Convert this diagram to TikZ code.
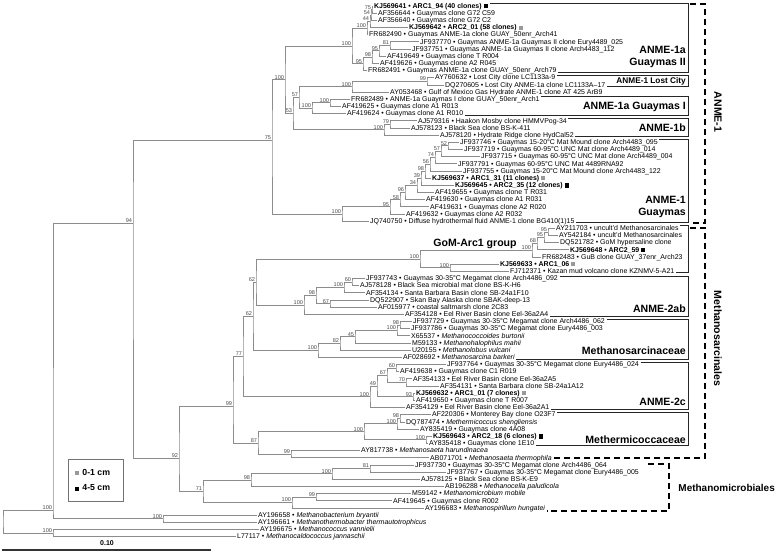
\documentclass[tikz,border=0pt]{standalone}
\usepackage{fontspec}
\setmainfont{Liberation Sans}
\usetikzlibrary{calc}
\tikzstyle{leaf}=[anchor=west,inner xsep=1.5bp,inner ysep=0pt,text height=5bp,text depth=0.4bp,font=\fontsize{7}{8}\selectfont]
\tikzstyle{br}=[black!45,line width=0.7bp]
\tikzstyle{bs}=[anchor=south east,inner xsep=0.8bp,inner ysep=0.3bp,font=\fontsize{5.6}{6}\selectfont,text=black!70]
\tikzstyle{cbox}=[black!85,line width=1bp]
\tikzstyle{clade}=[anchor=east,inner sep=0pt,align=right,font=\fontsize{10.6}{12}\selectfont\bfseries]
\tikzstyle{grp}=[black,line width=1.2bp,dash pattern=on 6bp off 4bp]
\tikzstyle{lgd}=[anchor=west,inner sep=0pt,font=\fontsize{8.8}{10}\selectfont\bfseries]
\newcommand{\sqk}{\textcolor{black}{\rule{4.2bp}{4.2bp}}}
\newcommand{\sqg}{\textcolor{black!40}{\rule{4.2bp}{4.2bp}}}

\begin{document}
\begin{tikzpicture}[x=1bp,y=-1bp]
\path[use as bounding box,fill=white] (0,0) rectangle (777,555);
\foreach \xs/\t [count=\i] in {374/{\textbf{KJ569641 • ARC1\_94 (40 clones)} \sqk}, 378/{AF356644 • Guaymas clone G72 C59}, 378/{AF356640 • Guaymas clone G72 C2}, 409/{\textbf{KJ569642 • ARC2\_01 (58 clones)} \sqg}, 369/{FR682490 • Guaymas ANME-1a clone GUAY\_50enr\_Arch41}, 420/{JF937770 • Guaymas ANME-1a Guaymas II clone Eury4489\_025}, 412/{JF937751 • Guaymas ANME-1a Guaymas II clone Arch4483\_112}, 387/{AF419649 • Guaymas clone T R004}, 380/{AF419626 • Guaymas clone A2 R045}, 368/{FR682491 • Guaymas ANME-1a clone GUAY\_50enr\_Arch79},
  435/{AY760632 • Lost City clone LC1133a-9}, 445/{DQ270605 • Lost City ANME-1a clone LC1133A–17}, 390/{AY053468 • Gulf of Mexico Gas Hydrate ANME-1 clone AT 425 ArB9}, 351/{FR682489 • ANME-1a Guaymas I clone GUAY\_50enr\_Arch1}, 342/{AF419625 • Guaymas clone A1 R013}, 347/{AF419624 • Guaymas clone A1 R010}, 418/{AJ579316 • Haakon Mosby clone HMMVPog-34}, 411/{AJ578123 • Black Sea clone BS-K-411}, 440/{AJ578120 • Hydrate Ridge clone HydCal52},
  460/{JF937746 • Guaymas 15-20°C Mat Mound clone Arch4483\_095}, 464/{JF937719 • Guaymas 60-95°C UNC Mat clone Arch4489\_014}, 481/{JF937715 • Guaymas 60-95°C UNC Mat clone Arch4489\_004}, 458/{JF937791 • Guaymas 60-95°C UNC Mat 4489RNA92}, 463/{JF937755 • Guaymas 15-20°C Mat Mound clone Arch4483\_122}, 432/{\textbf{KJ569637 • ARC1\_31 (11 clones)} \sqg}, 455/{\textbf{KJ569645 • ARC2\_35 (12 clones)} \sqk}, 435/{AF419655 • Guaymas clone T R031}, 426/{AF419630 • Guaymas clone A1 R031}, 430/{AF419631 • Guaymas clone A2 R020}, 406/{AF419632 • Guaymas clone A2 R032}, 370/{JQ740750 • Diffuse hydrothermal fluid ANME-1 clone BG410(1)15},
  556/{AY211703 • uncult'd Methanosarcinales}, 559/{AY542184 • uncult'd Methanosarcinales}, 560/{DQ521782 • GoM hypersaline clone}, 570/{\textbf{KJ569648 • ARC2\_59} \sqk}, 542/{FR682483 • GuB clone GUAY\_37enr\_Arch23}, 500/{\textbf{KJ569633 • ARC1\_06} \sqg}, 510/{FJ712371 • Kazan mud volcano clone KZNMV-5-A21},
  366/{JF937743 • Guaymas 30-35°C Megamat clone Arch4486\_092}, 360/{AJ578128 • Black Sea microbial mat clone BS-K-H6}, 366/{AF354134 • Santa Barbara Basin clone SB-24a1F10}, 370/{DQ522907 • Skan Bay Alaska clone SBAK-deep-13}, 378/{AF015977 • coastal saltmarsh clone 2C83}, 405/{AF354128 • Eel River Basin clone Eel-36a2A4},
  413/{JF937729 • Guaymas 30-35°C Megamat clone Arch4486\_062}, 411/{JF937786 • Guaymas 30-35°C Megamat clone Eury4486\_003}, 411/{X65537 • \textit{Methanococcoides burtonii}}, 412/{M59133 • \textit{Methanohalophilus mahii}}, 412/{U20155 • \textit{Methanolobus vulcani}}, 403/{AF028692 • \textit{Methanosarcina barkeri}},
  447/{JF937764 • Guaymas 30-35°C Megamat clone Eury4486\_024}, 400/{AF419638 • Guaymas clone C1 R019}, 413/{AF354133 • Eel River Basin clone Eel-36a2A5}, 440/{AF354131 • Santa Barbara clone SB-24a1A12}, 416/{\textbf{KJ569632 • ARC1\_01 (7 clones)} \sqg}, 416/{AF419650 • Guaymas clone T R007}, 406/{AF354129 • Eel River Basin clone Eel-36a2A1},
  432/{AF220306 • Monterey Bay clone O23F7}, 406/{DQ787474 • \textit{Methermicoccus shengliensis}}, 420/{AY835419 • Guaymas clone 4A08}, 433/{\textbf{KJ569643 • ARC2\_18 (6 clones)} \sqk}, 429/{AY835418 • Guaymas clone 1E10}, 361/{AY817738 • \textit{Methanosaeta harundinacea}}, 430/{AB071701 • \textit{Methanosaeta thermophila}},
  415/{JF937730 • Guaymas 30-35°C Megamat clone Arch4486\_064}, 447/{JF937767 • Guaymas 30-35°C Megamat clone Eury4486\_005}, 421/{AJ578125 • Black Sea clone BS-K-E9}, 445/{AB196288 • \textit{Methanocella paludicola}}, 412/{M59142 • \textit{Methanomicrobium mobile}}, 393/{AF419645 • Guaymas clone R002}, 425/{AY196683 • \textit{Methanospirillum hungatei}},
  258/{AY196658 • \textit{Methanobacterium bryantii}}, 258/{AY196661 • \textit{Methanothermobacter thermautotrophicus}}, 260/{AY196675 • \textit{Methanococcus vannielii}}, 237/{L77117 • \textit{Methanocaldococcus jannaschii}}}
  \node[leaf] (r\i) at (\xs-1.5,{6+(\i-1)*7.17}) {\t};
\foreach \nd/\nx/\ca/\cb in {n75a/372/r1/r2, n54/371/n75a/r3, n44/370/n54/r4, n100a/367/n44/r5, n81/390/r6/r7, n95a/379/n81/r8, n98a/372/n95a/r9, n95b/363/n98a/r10, n100b/352/n100a/n95b,
  n99a/427/r11/r12, n100lc/352/n99a/r13, n100d/330/r14/r15, n100c/312/n100d/r16, n57/299/n100lc/n100c, n79/390/r17/r18, n100B/384/n79/r19, n53/293/n57/n100B, n100A/285/n100b/n53,
  n52/448/r20/r21, n57b/441/n52/r22, n74/435/n57b/r23, n56/430/n74/r24, n98b/425/n56/r25, n39/421/n98b/r26, n34/417/n39/r27, n96/405/n34/r28, n58/400/n96/r29, n95c/390/n58/r30, n100g/342/n95c/r31,
  n95d/548/r32/r33, n95e/544/n95d/r34, n68/537/n95e/r35, n100x/532/n68/r36, n100y/450/r37/r38, nGoM/420/n100x/n100y,
  n60a/352/r39/r40, n100p/344/n60a/r41, n67a/330/r42/r43, n98c/316/n100p/n67a, n100ab/304/n98c/r44, n62a/256/nGoM/n100ab,
  n98m/400/r45/r46, n100m/397/n98m/r47, n45/355/n100m/r48, n82/340/n45/r49, n100M/318/n82/r50, n62b/253/n62a/n100M,
  n60c/396/r51/r52, n70/406/r53/r54, n67c/387/n60c/n70, n93/413/r55/r56, n49/377/n67c/n93, n100c2/370/n49/r57, n77/243/n62b/n100c2,
  n98t/400/r58/r59, n100t/397/n98t/r60, n100k/426/r61/r62, n100T/364/n100t/n100k, n99s/291/r63/r64, n87/258/n100T/n99s,
  n81m/370/r65/r66, n100q/332/n81m/r67, n98q/251/n100q/r68, n99q/316/r69/r70, n100r/292/n99q/r71, n71/203/n98q/n100r,
  MB/163/r72/r73, MC/53/r74/r75} {
  \coordinate (m) at ($(\ca)!.5!(\cb)$);
  \coordinate (h) at (\nx,0);
  \coordinate (\nd) at (h |- m);
  \draw[br] (\ca) -| (\nd) |- (\cb);}
\foreach \nd/\nx/\ny/\ca/\cb in {n75/272/140/n100A/n100g, n99/233/406/n77/n87, n92/179/458/n99/n71, N94/133/223/n75/n92, A/53/510/N94/MB, root/3/521.5/A/MC} {
  \coordinate (\nd) at (\nx,\ny);
  \draw[br] (\ca) -| (\nd) |- (\cb);}
\foreach \nd/\bv in {n75a/75, n54/54, n44/44, n100a/100, n81/81, n95a/95, n98a/98, n95b/95, n100b/100, n99a/99, n100lc/100, n100d/100, n100c/100, n57/57, n79/79, n100B/100, n53/53, n100A/100, n52/52, n57b/57, n74/74, n56/56, n98b/98, n39/39, n34/34, n96/96, n58/58, n95c/95, n100g/100, n75/75, n95d/95, n95e/95, n68/68, n100x/100, n100y/100, nGoM/100, n60a/60, n100p/100, n67a/67, n98c/98, n100ab/100, n62a/62, n98m/98, n100m/100, n45/45, n82/82, n100M/100, n62b/62, n60c/60, n70/70, n67c/67, n93/93, n49/49, n100c2/100, n77/77, n98t/98, n100t/100, n100k/100, n100T/100, n99s/99, n87/87, n99/99, n81m/81, n100q/100, n98q/98, n99q/99, n100r/100, n71/71, n92/92, N94/94, MB/100, A/100, MC/100}
  \node[bs] (b\nd) at (\nd) {\bv};
\foreach \ca/\cb/\ut/\lb in {r1/r10/4/73, r11/r12/76/87, r14/r16/97/116, r17/r19/119/137, r20/r31/140/223, r32/r38/226/273, r39/r44/276.5/316, r45/r50/319.5/359, r51/r57/362.5/409.5, r58/r62/412.7/445.4} {
  \coordinate (bt) at (688,\ut);
  \coordinate (bb) at (688,\lb);
  \draw[cbox] (\ca.east |- bt) -- (bt) -- (bb) -- (\cb.east |- bb);}
\node[clade] (lgII) at (686,56.7) {ANME-1a\\Guaymas II};
\node[clade,font=\fontsize{8.3}{9}\selectfont\bfseries] (llc) at (686,81) {ANME-1 Lost City};
\node[clade] (lgI) at (686,107) {ANME-1a Guaymas I};
\node[clade] (l1b) at (686,128) {ANME-1b};
\node[clade] (l1g) at (686,206.7) {ANME-1\\Guaymas};
\node[clade] (l2ab) at (686,309) {ANME-2ab};
\node[clade] (lmsc) at (686,350.7) {Methanosarcinaceae};
\node[clade] (l2c) at (686,401.7) {ANME-2c};
\node[clade] (lmth) at (686,439.3) {Methermicoccaceae};
\node[clade,anchor=south] (lgom) at (475,249) {GoM-Arc1 group};
\node[clade,font=\fontsize{10}{12}\selectfont\bfseries] (lmmb) at (775,488.3) {Methanomicrobiales};
\node[clade,rotate=-90,anchor=center] (lanme) at (718,112) {ANME-1};
\node[clade,rotate=-90,anchor=center] (lmsl) at (718,338.5) {Methanosarcinales};
\coordinate (ga) at (705,4); \coordinate (gb) at (705,223);
\draw[grp] (690,4) -- (ga) -- (gb) -- (690,223);
\coordinate (gc) at (705,228); \coordinate (gd) at (705,458);
\draw[grp] (690,228) -- (gc) -- (gd) -- (r64.east |- gd);
\coordinate (ge) at (669,464); \coordinate (gf) at (669,511);
\draw[grp] (648,464) -- (ge) -- (gf) -- (r71.east |- gf);
\node[draw=black!55,line width=0.8bp,minimum width=55bp,minimum height=42bp,inner sep=0pt] (leg) at (95.5,480) {};
\node[lgd] (k1) at (75,472) {\sqg\hspace{3bp}0-1 cm};
\node[lgd] (k2) at (75,488) {\sqk\hspace{3bp}4-5 cm};
\coordinate (s0) at (2,550); \coordinate (s1) at (211,550);
\draw[black!80,line width=1.1bp] (s0) -- (s1);
\node[font=\fontsize{7}{8}\selectfont\bfseries,inner sep=0pt] (sc) at (107,543) {0.10};
\end{tikzpicture}
\end{document}
